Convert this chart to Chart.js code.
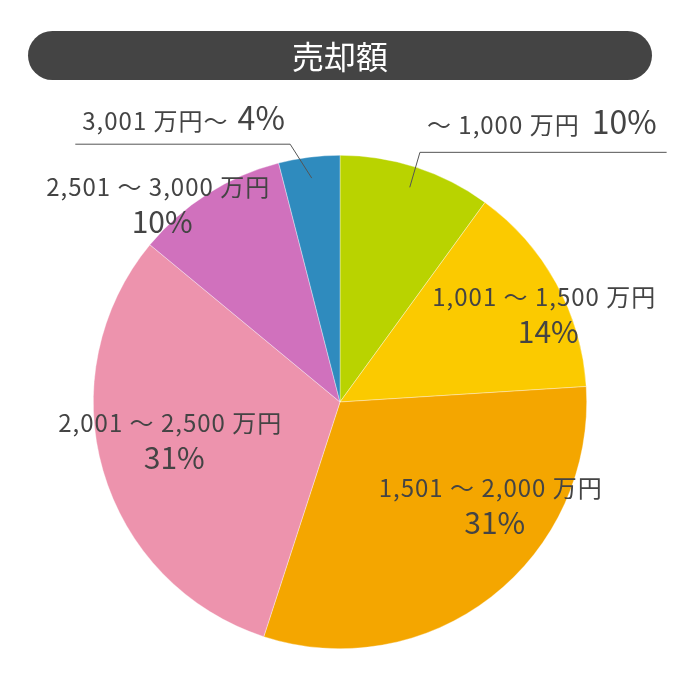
<!DOCTYPE html>
<html lang="ja">
<head>
<meta charset="utf-8">
<title>売却額</title>
<script src="https://cdn.jsdelivr.net/npm/chart.js@4"></script>
<style>
  html, body { margin: 0; padding: 0; background: #fff; }
  #wrap { width: 680px; height: 680px; }
</style>
</head>
<body>
<div id="wrap"><canvas id="saleChart" width="680" height="680"></canvas></div>
<script>
// Data
const chartTitle = "売却額";
const categories = [
  "～ 1,000 万円",
  "1,001 ～ 1,500 万円",
  "1,501 ～ 2,000 万円",
  "2,001 ～ 2,500 万円",
  "2,501 ～ 3,000 万円",
  "3,001 万円～",
];
const shares = [10, 14, 31, 31, 10, 4];
const sliceColors = ["#b9d300", "#fbca00", "#f4a600", "#ed93ad", "#d071bd", "#2f8bbe"];

// Label layout (fractions of the pie radius, from the pie centre)
// inside: anchor of the first text line (centre x, baseline y)
// outside: elbow of the leader line and end of the horizontal leg
const labelLayout = [
  { type: "out", elbow: [0.324, -1.012], legEnd: 1.324, align: "right" },
  { type: "in", at: [0.828, -0.389] },
  { type: "in", at: [0.611, 0.385] },
  { type: "in", at: [-0.688, 0.121] },
  { type: "in", at: [-0.737, -0.834] },
  { type: "out", elbow: [-0.202, -1.045], legEnd: -1.073, align: "left" },
];

const FONT = '"Noto Sans CJK JP", "Noto Sans", sans-serif';
const TEXT_COLOR = "#444";
const LABEL_FONT = "24px " + FONT;
const PCT_FONT = "30px " + FONT;
const PCT_FONT_OUT = "32px " + FONT;

function setLabelFont(ctx) {
  ctx.font = LABEL_FONT;
  ctx.letterSpacing = "1px";
}

function setPctFont(ctx, outside) {
  ctx.font = outside ? PCT_FONT_OUT : PCT_FONT;
  ctx.letterSpacing = "0px";
}

// Title bar
const titleBarPlugin = {
  id: "titleBar",
  beforeDraw(chart) {
    const ctx = chart.ctx;
    const x = 28, y = 31, w = 624, h = 49, r = 24.5;
    ctx.save();
    ctx.fillStyle = "#444";
    ctx.beginPath();
    ctx.roundRect(x, y, w, h, r);
    ctx.fill();
    ctx.fillStyle = "#fff";
    ctx.font = "32px " + FONT;
    ctx.textAlign = "center";
    ctx.textBaseline = "middle";
    ctx.fillText(chartTitle, x + w / 2, y + h / 2 + 1);
    ctx.restore();
  },
};

// Slice labels
const sliceLabelPlugin = {
  id: "sliceLabels",
  afterDatasetsDraw(chart) {
    const ctx = chart.ctx;
    const arcs = chart.getDatasetMeta(0).data;
    ctx.save();
    arcs.forEach((arc, i) => {
      const cx = arc.x, cy = arc.y, R = arc.outerRadius;
      const lay = labelLayout[i];
      const pct = shares[i] + "%";
      ctx.fillStyle = TEXT_COLOR;

      if (lay.type === "in") {
        const x = cx + lay.at[0] * R;
        const y = cy + lay.at[1] * R;
        ctx.textAlign = "center";
        ctx.textBaseline = "alphabetic";
        setLabelFont(ctx);
        ctx.fillText(categories[i], x, y);
        setPctFont(ctx, false);
        ctx.fillText(pct, x + 4, y + 37);
        return;
      }

      // leader line from inside the slice, out to the elbow, then horizontal
      const mid = (arc.startAngle + arc.endAngle) / 2;
      const sx = cx + Math.cos(mid) * R * 0.915;
      const sy = cy + Math.sin(mid) * R * 0.915;
      const ex = cx + lay.elbow[0] * R;
      const ey = cy + lay.elbow[1] * R;
      const lx = cx + lay.legEnd * R;
      ctx.strokeStyle = "#555";
      ctx.lineWidth = 1;
      ctx.beginPath();
      ctx.moveTo(sx, sy);
      ctx.lineTo(ex, ey);
      ctx.lineTo(lx, ey);
      ctx.stroke();

      ctx.textBaseline = "alphabetic";
      setPctFont(ctx, true);
      const pw = ctx.measureText(pct).width;
      setLabelFont(ctx);
      const cw = ctx.measureText(categories[i]).width;
      if (lay.align === "right") {
        const right = lx - 10;
        const base = ey - 18;
        ctx.textAlign = "right";
        setPctFont(ctx, true);
        ctx.fillText(pct, right, base);
        setLabelFont(ctx);
        ctx.fillText(categories[i], right - pw - 12, base);
      } else {
        const left = lx + 7;
        const base = ey - 14;
        ctx.textAlign = "left";
        setLabelFont(ctx);
        ctx.fillText(categories[i], left, base);
        setPctFont(ctx, true);
        ctx.fillText(pct, left + cw + 9, base);
      }
    });
    ctx.restore();
  },
};

const ctx = document.getElementById("saleChart").getContext("2d");

new Chart(ctx, {
  type: "pie",
  data: {
    labels: categories,
    datasets: [
      {
        data: shares,
        backgroundColor: sliceColors,
        borderColor: "rgba(255, 255, 255, 0.6)",
        borderWidth: 0.6,
      },
    ],
  },
  options: {
    responsive: false,
    animation: false,
    layout: {
      padding: { top: 155, bottom: 31, left: 93, right: 93 },
    },
    plugins: {
      legend: { display: false },
      tooltip: { enabled: false },
      title: { display: false },
    },
  },
  plugins: [titleBarPlugin, sliceLabelPlugin],
});
</script>
</body>
</html>
